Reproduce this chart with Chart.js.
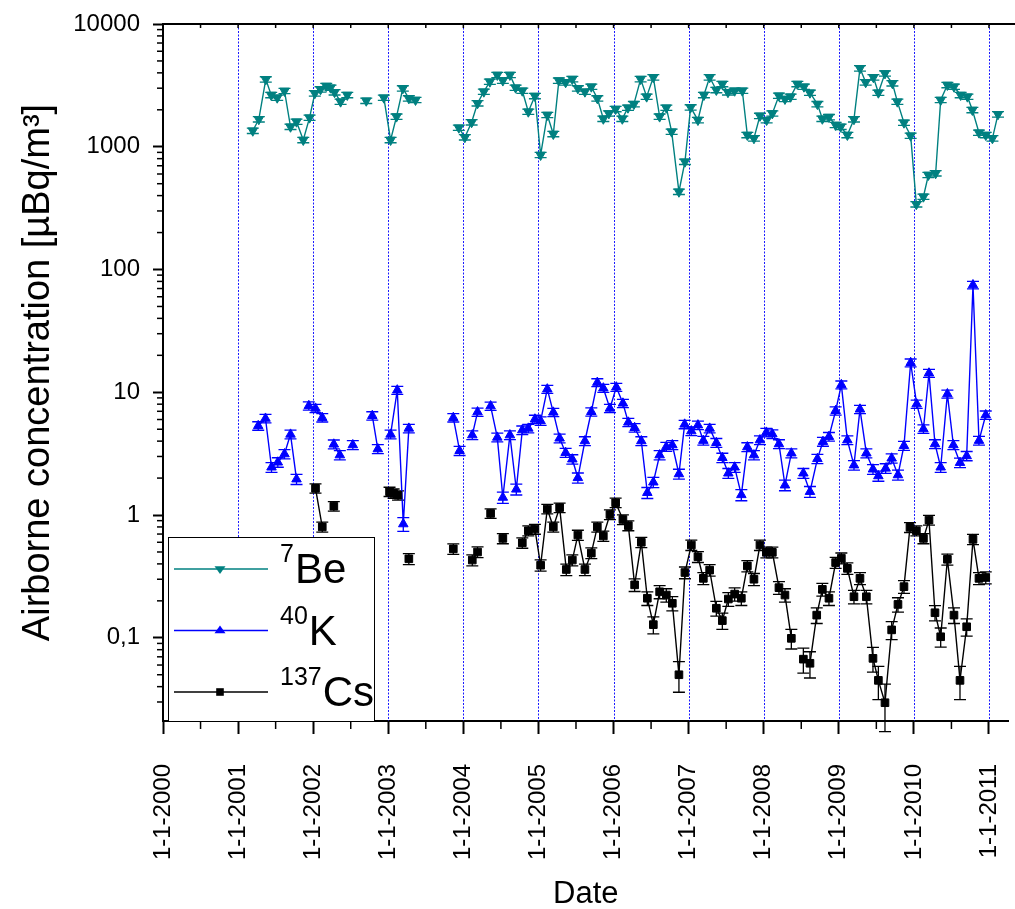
<!DOCTYPE html>
<html>
<head>
<meta charset="utf-8">
<script src="https://cdn.jsdelivr.net/npm/chart.js@4.4.0/dist/chart.umd.min.js"></script>
<style>
  html, body { margin: 0; padding: 0; background: #fff; }
  #wrap { width: 1015px; height: 909px; }
</style>
</head>
<body>
<div id="wrap"><canvas id="chart"></canvas></div>
<script>
// dates are decimal years, null marks a break in the series line
const beDates = [
  2001.196, 2001.276, 2001.369, 2001.441, 2001.521, 2001.618, 2001.698, 2001.778, 2001.868, 2001.952,
  2002.022, 2002.098, 2002.174, 2002.231, 2002.285, 2002.365, 2002.454, null, 2002.707, null,
  2002.941, 2003.031, 2003.110, 2003.194, 2003.274, 2003.363, null,
  2003.940, 2004.020, 2004.110, 2004.189, 2004.273, 2004.353, 2004.452, 2004.526, 2004.620, 2004.696,
  2004.785, 2004.865, 2004.953, 2005.029, 2005.118, 2005.198, 2005.272, 2005.362, 2005.451, 2005.525,
  2005.619, 2005.704, 2005.784, 2005.864, 2005.938, 2006.028, 2006.117, 2006.192, 2006.271, 2006.361,
  2006.441, 2006.530, 2006.614, 2006.703, 2006.774, 2006.871, 2006.951, 2007.027, 2007.124, 2007.204,
  2007.280, 2007.369, 2007.449, 2007.524, 2007.613, 2007.715, 2007.782, 2007.870, 2007.950, 2008.039,
  2008.115, 2008.203, 2008.283, 2008.359, 2008.448, 2008.536, 2008.616, 2008.715, 2008.781, 2008.869,
  2008.958, 2009.025, 2009.114, 2009.202, 2009.282, 2009.358, 2009.461, 2009.527, 2009.615, 2009.714,
  2009.780, 2009.868, 2009.957, 2010.033, 2010.127, 2010.193, 2010.290, 2010.357, 2010.446, 2010.534,
  2010.623, 2010.713, 2010.779, 2010.867, 2010.957, 2011.046, 2011.120
];
const beValues = [
  1350, 1675, 3540, 2640, 2510, 2850, 1455, 1600, 1135, 1727,
  2725, 2935, 3125, 3030, 2780, 2330, 2640, null, 2370, null,
  2510, 1135, 1760, 2990, 2480, 2405, null,
  1430, 1195, 1583, 2260, 2810, 3390, 3845, 3460, 3845, 3030,
  2860, 1930, 2590, 857, 1815, 1270, 3460, 3350, 3560, 2990,
  2810, 3085, 2480, 1690, 1870, 2030, 1690, 2080, 2225, 3560,
  2560, 3680, 1760, 2080, 1328, 430, 755, 2095, 1650, 2640,
  3680, 2900, 3245, 2780, 2860, 2860, 1247, 1172, 1785, 1650,
  1870, 2605, 2450, 2560, 3245, 3085, 2755, 2225, 1690, 1745,
  1505, 1455, 1247, 1675, 4355, 3350, 3680, 2755, 3960, 3290,
  2330, 1570, 1230, 340, 392, 589, 608, 2405, 3185, 3085,
  2640, 2560, 1993, 1303, 1247, 1172, 1838
];

const kDates = [
  2001.268, 2001.365, 2001.445, 2001.529, 2001.618, 2001.698, 2001.778, null,
  2001.942, 2002.031, 2002.121, null, 2002.275, 2002.355, null, 2002.528, null,
  2002.787, 2002.861, null, 2003.031, 2003.120, 2003.200, 2003.274, null,
  2003.866, 2003.950, null, 2004.119, 2004.189, null,
  2004.363, 2004.452, 2004.526, 2004.620, 2004.705, 2004.785, 2004.865, 2004.953, 2005.029, 2005.118,
  2005.198, 2005.282, 2005.362, 2005.451, 2005.525, 2005.619, 2005.704, 2005.784, 2005.864, 2005.952,
  2006.037, 2006.125, 2006.197, 2006.281, 2006.370, 2006.450, 2006.530, 2006.614, 2006.703, 2006.783,
  2006.871, 2006.947, 2007.036, 2007.124, 2007.196, 2007.280, 2007.369, 2007.449, 2007.529, 2007.613,
  2007.702, 2007.782, 2007.870, 2007.950, 2008.035, 2008.115, 2008.203, 2008.283, 2008.368, null,
  2008.528, 2008.616, 2008.715, 2008.789, 2008.869, 2008.958, 2009.034, 2009.114, 2009.202, 2009.282,
  2009.367, 2009.455, 2009.527, 2009.624, 2009.704, 2009.788, 2009.868, 2009.957, 2010.037, 2010.127,
  2010.201, 2010.281, 2010.357, 2010.446, 2010.526, 2010.614, 2010.703, 2010.787, 2010.867, 2010.957
];
const kValues = [
  5.33, 6.12, 2.45, 2.69, 3.14, 4.54, 1.96, null,
  7.76, 7.39, 6.21, null, 3.77, 3.08, null, 3.72, null,
  6.44, 3.45, null, 4.54, 10.4, 0.845, 5.08, null,
  6.21, 3.34, null, 4.48, 6.9, null,
  7.72, 4.29, 1.39, 4.48, 1.62, 4.92, 5.08, 6.03, 5.84, 10.6,
  6.86, 4.22, 3.22, 2.85, 2.01, 4.01, 6.94, 12.0, 10.8, 7.39,
  11.0, 8.13, 5.69, 5.14, 4.01, 1.52, 1.85, 3.08, 3.60, 3.72,
  2.16, 5.48, 4.83, 5.40, 4.04, 5.08, 3.88, 2.93, 2.19, 2.45,
  1.46, 3.58, 3.08, 4.08, 4.71, 4.57, 3.79, 1.75, 3.19, null,
  2.19, 1.55, 2.87, 3.96, 4.35, 7.07, 11.5, 4.08, 2.55, 7.27,
  3.19, 2.36, 2.08, 2.40, 2.90, 2.12, 3.67, 17.4, 8.01, 5.02,
  14.3, 3.79, 2.45, 9.68, 3.72, 2.67, 3.03, 74.8, 4.04, 6.53
];

const csDates = [
  2002.031, 2002.121, null, 2002.275, null, 2003.017, 2003.071, 2003.130, null, 2003.274, null,
  2003.866, null, 2004.119, 2004.189, null, 2004.363, null, 2004.526, null,
  2004.785, 2004.865, 2004.953, 2005.029, 2005.118, 2005.198, 2005.282, 2005.371, 2005.451, 2005.525,
  2005.619, 2005.704, 2005.784, 2005.864, 2005.952, 2006.028, 2006.125, 2006.197, 2006.281, 2006.370,
  2006.450, 2006.530, 2006.614, 2006.703, 2006.783, 2006.871, 2006.951, 2007.036, 2007.124, 2007.196,
  2007.280, 2007.369, 2007.449, 2007.529, 2007.613, 2007.702, 2007.782, 2007.870, 2007.950, 2008.035,
  2008.115, 2008.203, 2008.283, 2008.368, null,
  2008.528, 2008.616, 2008.706, 2008.781, 2008.869, 2008.958, 2009.034, 2009.114, 2009.202, 2009.282,
  2009.367, 2009.455, 2009.527, 2009.615, 2009.704, 2009.788, 2009.868, 2009.948, 2010.033, 2010.127,
  2010.201, 2010.281, 2010.357, 2010.446, 2010.534, 2010.614, 2010.703, 2010.787, 2010.867, 2010.957
];
const csValues = [
  1.65, 0.80, null, 1.18, null, 1.55, 1.50, 1.45, null, 0.44, null,
  0.53, null, 0.43, 0.50, null, 1.03, null, 0.645, null,
  0.594, 0.745, 0.769, 0.39, 1.12, 0.80, 1.15, 0.36, 0.43, 0.687,
  0.36, 0.49, 0.80, 0.675, 1.01, 1.26, 0.92, 0.82, 0.27, 0.60,
  0.21, 0.128, 0.237, 0.223, 0.191, 0.050, 0.34, 0.57, 0.457, 0.305,
  0.356, 0.174, 0.138, 0.207, 0.227, 0.21, 0.385, 0.30, 0.57, 0.497,
  0.497, 0.256, 0.223, 0.099, null,
  0.067, 0.062, 0.153, 0.248, 0.21, 0.41, 0.445, 0.368, 0.216, 0.305,
  0.216, 0.068, 0.045, 0.0296, 0.116, 0.187, 0.261, 0.794, 0.745, 0.645,
  0.91, 0.16, 0.102, 0.436, 0.153, 0.045, 0.123, 0.634, 0.305, 0.31
];

const xTickYears = [2000, 2001, 2002, 2003, 2004, 2005, 2006, 2007, 2008, 2009, 2010, 2011];
const xTickLabels = ['1-1-2000', '1-1-2001', '1-1-2002', '1-1-2003', '1-1-2004', '1-1-2005',
  '1-1-2006', '1-1-2007', '1-1-2008', '1-1-2009', '1-1-2010', '1-1-2011'];
const yTickValues = [0.1, 1, 10, 100, 1000, 10000];
const yTickLabels = ['0,1', '1', '10', '100', '1000', '10000'];

const FONT = '"Liberation Sans", Arial, Helvetica, sans-serif';
const TEAL = '#008080';
const BLUE = '#0000ff';
const BLACK = '#000000';

function toPoints(dates, values) {
  return dates.map((d, i) => values[i] === null ? { x: dates[i - 1], y: null } : { x: d, y: values[i] });
}

// vertical error bars with caps, drawn under the markers
const errorBars = {
  id: 'errorBars',
  beforeDatasetsDraw(chart) {
    const ctx = chart.ctx;
    const ys = chart.scales.y;
    chart.data.datasets.forEach((ds, di) => {
      const meta = chart.getDatasetMeta(di);
      ctx.save();
      ctx.strokeStyle = ds.borderColor;
      ctx.lineWidth = 1.3;
      meta.data.forEach((el, i) => {
        const v = ds.data[i].y;
        if (v === null) return;
        const e = v * ds.errRel + ds.errAbs;
        const top = ys.getPixelForValue(v + e);
        const bot = ys.getPixelForValue(Math.max(v - e, 1e-4));
        const x = el.x;
        ctx.beginPath();
        ctx.moveTo(x, top); ctx.lineTo(x, bot);
        ctx.moveTo(x - 6, top); ctx.lineTo(x + 6, top);
        ctx.moveTo(x - 6, bot); ctx.lineTo(x + 6, bot);
        ctx.stroke();
      });
      ctx.restore();
    });
  }
};

// dotted year lines, minor ticks, top frame
const frame = {
  id: 'frame',
  beforeDatasetsDraw(chart) {
    const { ctx, chartArea: a } = chart;
    const xs = chart.scales.x;
    ctx.save();
    ctx.strokeStyle = '#1a1aff';
    ctx.lineWidth = 1;
    ctx.setLineDash([2, 1.5]);
    xTickYears.forEach(yr => {
      if (yr === xTickYears[0]) return;
      const x = Math.round(xs.getPixelForValue(yr)) + 0.5;
      ctx.beginPath(); ctx.moveTo(x, a.top); ctx.lineTo(x, a.bottom); ctx.stroke();
    });
    ctx.restore();
  },
  afterDraw(chart) {
    const { ctx, chartArea: a } = chart;
    const xs = chart.scales.x, ys = chart.scales.y;
    ctx.save();
    ctx.strokeStyle = '#000';
    // top frame line
    ctx.lineWidth = 2;
    ctx.beginPath(); ctx.moveTo(a.left - 1, a.top); ctx.lineTo(chart.width, a.top); ctx.stroke();
    // half-year minor ticks on bottom axis, small inward ticks on top
    ctx.lineWidth = 1.5;
    xTickYears.forEach(yr => {
      const xm = xs.getPixelForValue(yr + 0.5);
      if (xm < a.right) {
        ctx.beginPath(); ctx.moveTo(xm, a.bottom); ctx.lineTo(xm, a.bottom + 8); ctx.stroke();
      }
      [yr, yr + 0.5].forEach(v => {
        const x = xs.getPixelForValue(v);
        if (x > a.left + 2 && x < a.right) {
          ctx.beginPath(); ctx.moveTo(x, a.top); ctx.lineTo(x, a.top + 4); ctx.stroke();
        }
      });
    });
    // log minor ticks on y axis
    for (let p = -2; p <= 3; p++) {
      for (let m = 2; m <= 9; m++) {
        const v = m * Math.pow(10, p);
        if (v < ys.min || v > ys.max) continue;
        const y = ys.getPixelForValue(v);
        ctx.beginPath(); ctx.moveTo(a.left, y); ctx.lineTo(a.left - 6, y); ctx.stroke();
      }
    }
    ctx.restore();
  }
};

// boxed legend in the lower-left corner with isotope superscripts
const isoLegend = {
  id: 'isoLegend',
  afterDraw(chart) {
    const { ctx, chartArea: a } = chart;
    const bx = a.left + 5, by = a.bottom - 184, bw = 206, bh = 184;
    ctx.save();
    ctx.fillStyle = '#fff';
    ctx.fillRect(bx, by, bw, bh);
    ctx.strokeStyle = '#000';
    ctx.lineWidth = 1;
    ctx.strokeRect(bx + 0.5, by + 0.5, bw, bh);
    const rows = [
      { mass: '7', sym: 'Be', color: TEAL, style: 'down' },
      { mass: '40', sym: 'K', color: BLUE, style: 'up' },
      { mass: '137', sym: 'Cs', color: BLACK, style: 'rect' }
    ];
    rows.forEach((r, i) => {
      const ly = by + 32 + i * 61.5;
      ctx.strokeStyle = r.color;
      ctx.fillStyle = r.color;
      ctx.lineWidth = 1.5;
      ctx.beginPath(); ctx.moveTo(bx + 6, ly); ctx.lineTo(bx + 100, ly); ctx.stroke();
      const mx = bx + 52, s = 5.5;
      ctx.beginPath();
      if (r.style === 'down') {
        ctx.moveTo(mx - s, ly - s * 0.5); ctx.lineTo(mx + s, ly - s * 0.5); ctx.lineTo(mx, ly + s * 0.9);
      } else if (r.style === 'up') {
        ctx.moveTo(mx - s, ly + s * 0.5); ctx.lineTo(mx + s, ly + s * 0.5); ctx.lineTo(mx, ly - s * 0.9);
      } else {
        ctx.rect(mx - 3.8, ly - 3.8, 7.6, 7.6);
      }
      ctx.closePath(); ctx.fill();
      ctx.fillStyle = '#000';
      ctx.textBaseline = 'alphabetic';
      ctx.textAlign = 'left';
      const tx = bx + 112, base = ly + 14;
      ctx.font = '25px ' + FONT;
      ctx.fillText(r.mass, tx, base - 21);
      const w = ctx.measureText(r.mass).width;
      ctx.font = '42px ' + FONT;
      ctx.fillText(r.sym, tx + w + 1, base);
    });
    ctx.restore();
  }
};

const pointOpts = (color, style, rot, radius) => ({
  borderColor: color,
  backgroundColor: color,
  pointBackgroundColor: color,
  pointBorderColor: color,
  pointStyle: style,
  pointRotation: rot,
  pointRadius: radius,
  pointBorderWidth: 1,
  borderWidth: 1.4,
  showLine: true,
  spanGaps: false,
  tension: 0
});

new Chart(document.getElementById('chart'), {
  type: 'scatter',
  data: {
    datasets: [
      Object.assign({ label: '137Cs', data: toPoints(csDates, csValues), errRel: 0.08, errAbs: 0.01 },
        pointOpts(BLACK, 'rect', 0, 5.4)),
      Object.assign({ label: '40K', data: toPoints(kDates, kValues), errRel: 0.07, errAbs: 0.05 },
        pointOpts(BLUE, 'triangle', 0, 5.5)),
      Object.assign({ label: '7Be', data: toPoints(beDates, beValues), errRel: 0.05, errAbs: 0 },
        pointOpts(TEAL, 'triangle', 180, 5.5))
    ]
  },
  options: {
    responsive: true,
    maintainAspectRatio: false,
    animation: false,
    layout: { padding: { top: 24, right: 2, left: 0, bottom: 0 } },
    plugins: { legend: { display: false }, tooltip: { enabled: false } },
    scales: {
      x: {
        type: 'linear',
        min: 2000,
        max: 2011.26,
        afterBuildTicks: s => { s.ticks = xTickYears.map(v => ({ value: v })); },
        afterFit: s => { s.height = 188; s.paddingLeft = 0; s.paddingRight = 0; },
        ticks: {
          autoSkip: false, minRotation: 90, maxRotation: 90, padding: 30,
          color: '#000', font: { family: FONT, size: 24 },
          callback: (v, i) => xTickLabels[i]
        },
        grid: { drawOnChartArea: false, drawTicks: true, tickLength: 13, tickWidth: 2, tickColor: '#000' },
        border: { display: true, color: '#000', width: 2 },
        title: { display: true, text: 'Date', color: '#000', font: { family: FONT, size: 31 }, padding: { top: 0, bottom: -4 } }
      },
      y: {
        type: 'logarithmic',
        min: 0.021,
        max: 10000,
        afterBuildTicks: s => { s.ticks = yTickValues.map(v => ({ value: v })); },
        afterFit: s => { s.width = 163; s.paddingTop = 0; s.paddingBottom = 0; },
        ticks: {
          padding: 13, color: '#000', font: { family: FONT, size: 24 },
          callback: (v, i) => yTickLabels[i]
        },
        grid: { drawOnChartArea: false, drawTicks: true, tickLength: 10, tickWidth: 2, tickColor: '#000' },
        border: { display: true, color: '#000', width: 2 },
        title: { display: true, text: 'Airborne concentration [\u00b5Bq/m\u00b3]', color: '#000', font: { family: FONT, size: 38 }, padding: { top: 16, bottom: 0 } }
      }
    }
  },
  plugins: [frame, errorBars, isoLegend]
});
</script>
</body>
</html>
